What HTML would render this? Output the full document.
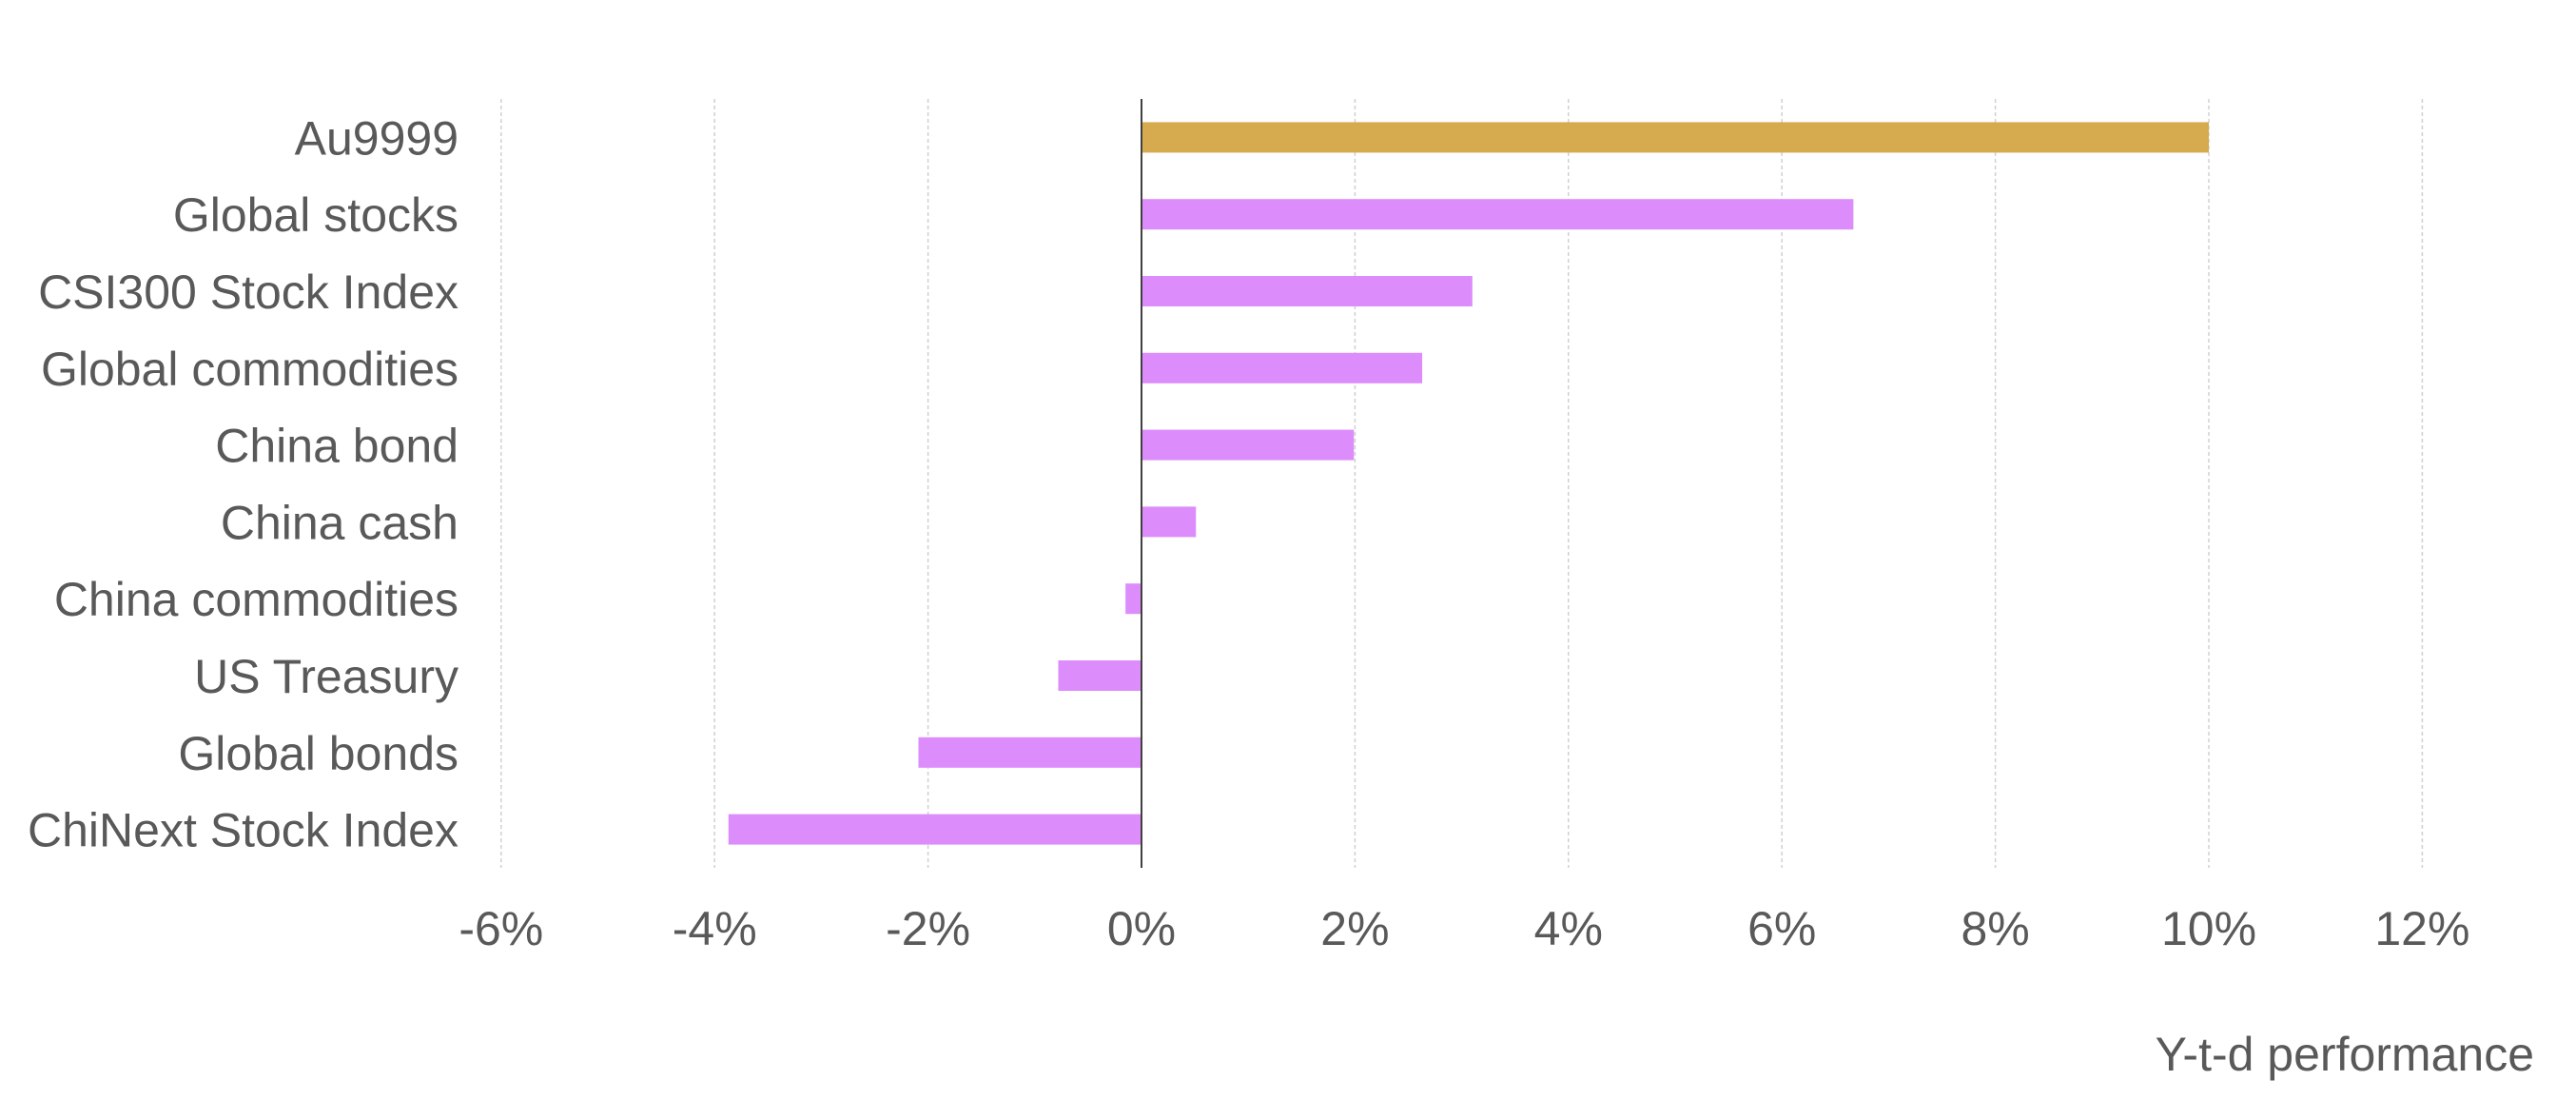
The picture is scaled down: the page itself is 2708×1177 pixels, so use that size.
<!DOCTYPE html>
<html><head><meta charset="utf-8"><style>
html,body{margin:0;padding:0;background:#fff;}
svg{display:block;}
text{font-family:"Liberation Sans",Arial,sans-serif;fill:#595959;}
</style></head><body>
<svg id="chart" width="2708" height="1177" viewBox="0 0 2708 1177" xmlns="http://www.w3.org/2000/svg">
<g id="grid"></g>
<g id="bars"></g>
<g id="ylabels"></g>
<g id="xlabels"></g>
<text x="2664" y="1125" text-anchor="end" font-size="50">Y-t-d performance</text>
</svg>
<script>
const categories = ["Au9999","Global stocks","CSI300 Stock Index","Global commodities","China bond","China cash","China commodities","US Treasury","Global bonds","ChiNext Stock Index"];
const values = [10.0, 6.67, 3.10, 2.63, 1.99, 0.51, -0.15, -0.78, -2.09, -3.87];
const highlight = ["Au9999"];
const ticks = [-6,-4,-2,0,2,4,6,8,10,12];
const tickLabels = ["-6%","-4%","-2%","0%","2%","4%","6%","8%","10%","12%"];

const NS="http://www.w3.org/2000/svg";
const X0=1200, PX=112.2, TOP=104, BOT=912;
const band=(BOT-TOP)/categories.length;
function xs(v){return X0+v*PX;}
function ys(i){return TOP+band*(i+0.5);}
function mk(tag,attrs,parent){const e=document.createElementNS(NS,tag);for(const k in attrs)e.setAttribute(k,attrs[k]);parent.appendChild(e);return e;}
const grid=document.getElementById('grid'),bars=document.getElementById('bars'),yl=document.getElementById('ylabels'),xl=document.getElementById('xlabels');
ticks.forEach((t,i)=>{
  if(t!==0){
    const l=mk('line',{x1:xs(t),x2:xs(t),y1:TOP,y2:BOT,stroke:'#d0d0d0','stroke-width':1.5,'stroke-dasharray':'4,3'},grid);
    
    
  }
  const tx=mk('text',{x:xs(t),y:993,'text-anchor':'middle','font-size':50},xl);
  tx.textContent=tickLabels[i];
  
  
});
categories.forEach((c,i)=>{
  const v=values[i];
  const r=mk('rect',{x:Math.min(xs(0),xs(v)),y:ys(i)-16,width:Math.abs(xs(v)-xs(0)),height:32,fill:highlight.includes(c)?'#D6AA4E':'#DD8CFC'},bars);
  
  
  const t=mk('text',{x:482,y:ys(i)+18,'text-anchor':'end','font-size':50},yl);
  t.textContent=c;
  
  
});
const z=mk('line',{x1:xs(0),x2:xs(0),y1:TOP,y2:BOT,stroke:'#404040','stroke-width':2},bars);


</script>
</body></html>
